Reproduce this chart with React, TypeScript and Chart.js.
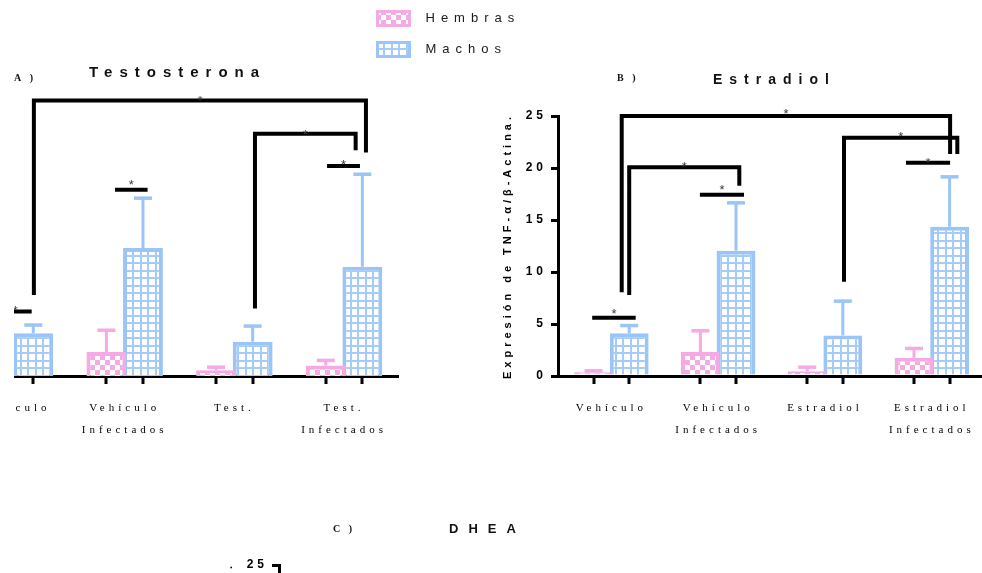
import React, { useEffect, useRef } from 'react';
import { Chart, registerables } from 'chart.js';

Chart.register(...registerables);

// ---------------- data ----------------
const seriesNames = ['Hembras', 'Machos'];
const yTitle = 'Expresión de TNF-α/β-Actina.';
const yTickValues = [0, 5, 10, 15, 20, 25];

const titleA = 'Testosterona';
const panelA = 'A )';
const categoriesA = ['Vehículo', ['Vehículo', 'Infectados'], 'Test.', ['Test.', 'Infectados']];
const hembrasA = [null, 2.3, 0.55, 1.0];
const hembrasErrA = [null, 2.1, 0.3, 0.5];
const machosA = [4.1, 12.3, 3.3, 10.5];
const machosErrA = [0.8, 4.8, 1.5, 8.9];
// brackets: a/b = [category, series]; y1 = left leg end, top = bar level, y2 = right leg end
const bracketsA = [
  { a: [0, 0], b: [0, 1], y1: 6.2, top: 6.2, y2: 6.2 },
  { a: [1, 0], b: [1, 1], y1: 17.9, top: 17.9, y2: 17.9 },
  { a: [3, 0], b: [3, 1], y1: 20.2, top: 20.2, y2: 20.2 },
  { a: [0, 1], b: [3, 1], y1: 7.8, top: 26.5, y2: 21.5 },
  { a: [2, 1], b: [3, 1], y1: 6.5, top: 23.3, y2: 21.7 },
];

const titleB = 'Estradiol';
const panelB = 'B )';
const categoriesB = ['Vehículo', ['Vehículo', 'Infectados'], 'Estradiol', ['Estradiol', 'Infectados']];
const hembrasB = [0.35, 2.3, 0.45, 1.75];
const hembrasErrB = [0.15, 2.05, 0.4, 0.9];
const machosB = [4.1, 12.05, 3.9, 14.35];
const machosErrB = [0.75, 4.6, 3.3, 4.8];
const bracketsB = [
  { a: [0, 0], b: [0, 1], y1: 5.6, top: 5.6, y2: 5.6 },
  { a: [1, 0], b: [1, 1], y1: 17.43, top: 17.43, y2: 17.43 },
  { a: [3, 0], b: [3, 1], y1: 20.5, top: 20.5, y2: 20.5 },
  { a: [0, 1], b: [1, 1], y1: 7.8, top: 20.07, y2: 18.3 },
  { a: [0, 1], b: [3, 1], y1: 8.05, top: 25, y2: 21.35 },
  { a: [2, 1], b: [3, 1], y1: 9.07, top: 22.9, y2: 21.35 },
];

const titleC = 'DHEA';
const panelC = 'C )';
const categoriesC = ['Vehículo', ['Vehículo', 'Infectados'], 'DHEA', ['DHEA', 'Infectados']];
const hembrasC: (number | null)[] = [];
const machosC: (number | null)[] = [];

// ---------------- styles ----------------
const SANS = "'Liberation Sans', Arial, Helvetica, sans-serif";
const SERIF = "'Liberation Serif', 'Times New Roman', Times, serif";
const PINK = 'rgb(245, 170, 228)';
const BLUE = 'rgb(155, 196, 247)';
const BLUE_LINE = 'rgb(165, 203, 248)';

const bracketStyleA = [
  { dx1: 2, dx2: -1.6, starDy: 4 },
  { dx1: 8.6, dx2: 4.6, starDy: 8 },
  { dx1: 1.3, dx2: -2.4, starDy: 4 },
  { dx1: 0.6, dx2: 3.6, starDy: 2.6 },
  { dx1: 2.3, dx2: -6.7, starDy: 2.6 },
];
const bracketStyleB = [
  { dx1: -1.4, dx2: 6.5, starDy: 7 },
  { dx1: -0.5, dx2: 8, starDy: 8.7 },
  { dx1: -8, dx2: 0.5, starDy: 3.4 },
  { dx1: 0, dx2: 3.3, starDy: 3.3 },
  { dx1: -7.5, dx2: 0.5, starDy: 5.3 },
  { dx1: 1.2, dx2: 7.7, starDy: 4 },
];

// canvas placement (page coordinates)
const POS_A = { left: -100, top: 0, width: 500, height: 460 };
const POS_B = { left: 480, top: 0, width: 510, height: 460 };
const POS_C = { left: 201, top: 449, width: 510, height: 460 };
const POS_L = { left: 350, top: -6, width: 400, height: 100 };

function makeChecker(): any {
  const c = document.createElement('canvas');
  c.width = 10; c.height = 10;
  const g = c.getContext('2d')!;
  g.fillStyle = PINK; g.fillRect(0, 0, 10, 10);
  g.fillStyle = '#ffffff'; g.fillRect(0, 0, 5, 5); g.fillRect(5, 5, 5, 5);
  return g.createPattern(c, 'repeat');
}
function makeGrid(): any {
  const c = document.createElement('canvas');
  c.width = 15; c.height = 15;
  const g = c.getContext('2d')!;
  g.fillStyle = '#ffffff'; g.fillRect(0, 0, 15, 15);
  g.fillStyle = BLUE_LINE;
  g.fillRect(0, 0, 2, 15); g.fillRect(7, 0, 2, 15);
  g.fillRect(0, 0, 15, 2); g.fillRect(0, 7, 15, 2);
  return g.createPattern(c, 'repeat');
}
function makeSwatch(pattern: any, color: string) {
  const c = document.createElement('canvas');
  c.width = 35; c.height = 17;
  const g = c.getContext('2d')!;
  g.fillStyle = pattern; g.fillRect(0, 0, 35, 17);
  g.strokeStyle = color; g.lineWidth = 3; g.strokeRect(1.5, 1.5, 32, 14);
  return c;
}

// ---------------- plugins ----------------
function spacingPlugin(px: number) {
  const set = (chart: any) => { (chart.ctx as any).letterSpacing = px + 'px'; };
  return { id: 'letterSpacing', beforeInit: set, beforeUpdate: set, beforeLayout: set, beforeDraw: set, beforeRender: set };
}

const errorBarsPlugin = {
  id: 'errorBars',
  afterDatasetsDraw(chart: any) {
    const ctx = chart.ctx;
    const ys = chart.scales.y;
    chart.data.datasets.forEach((ds: any, di: number) => {
      const errs = ds.errors;
      if (!errs) return;
      const meta = chart.getDatasetMeta(di);
      meta.data.forEach((bar: any, i: number) => {
        const v = ds.data[i];
        const e = errs[i];
        if (v == null || e == null) return;
        const yTop = ys.getPixelForValue(v + e);
        ctx.save();
        ctx.strokeStyle = ds.borderColor;
        ctx.fillStyle = ds.borderColor;
        ctx.lineWidth = 3;
        ctx.beginPath();
        ctx.moveTo(bar.x, bar.y);
        ctx.lineTo(bar.x, yTop);
        ctx.stroke();
        ctx.fillRect(bar.x - 9, yTop - 1.75, 18, 3.5);
        ctx.restore();
      });
    });
  },
};

function bracketsPlugin(items: any[], styles: any[]) {
  return {
    id: 'brackets',
    afterDatasetsDraw(chart: any) {
      const ctx = chart.ctx;
      const ys = chart.scales.y;
      items.forEach((b, k) => {
        const st = styles[k];
        const xa = chart.getDatasetMeta(b.a[1]).data[b.a[0]].x + st.dx1;
        const xb = chart.getDatasetMeta(b.b[1]).data[b.b[0]].x + st.dx2;
        const p1 = ys.getPixelForValue(b.y1);
        const pt = ys.getPixelForValue(b.top);
        const p2 = ys.getPixelForValue(b.y2);
        ctx.save();
        ctx.strokeStyle = '#000';
        ctx.lineWidth = 4;
        ctx.lineJoin = 'miter';
        ctx.lineCap = 'butt';
        ctx.beginPath();
        ctx.moveTo(xa, p1);
        ctx.lineTo(xa, pt);
        ctx.lineTo(xb, pt);
        ctx.lineTo(xb, p2);
        ctx.stroke();
        (ctx as any).letterSpacing = '0px';
        ctx.font = `13px ${SANS}`;
        ctx.fillStyle = '#3a3a3a';
        ctx.textAlign = 'center';
        ctx.textBaseline = 'alphabetic';
        ctx.fillText('*', (xa + xb) / 2, pt - st.starDy + 7.5);
        ctx.restore();
      });
    },
  };
}

const barTicksPlugin = {
  id: 'barTicks',
  afterDraw(chart: any) {
    const ctx = chart.ctx;
    const axisY = chart.scales.x.top;
    ctx.save();
    ctx.fillStyle = '#000';
    chart.data.datasets.forEach((_: any, di: number) => {
      chart.getDatasetMeta(di).data.forEach((bar: any) => {
        ctx.fillRect(Math.round(bar.x) - 1.5, axisY, 3, 8);
      });
    });
    ctx.restore();
  },
};

function textPlugin(items: any[], pos: any) {
  return {
    id: 'panelText',
    afterDraw(chart: any) {
      const ctx = chart.ctx;
      items.forEach((t) => {
        ctx.save();
        ctx.font = t.font;
        (ctx as any).letterSpacing = t.spacing + 'px';
        ctx.fillStyle = '#111';
        ctx.textAlign = 'left';
        ctx.textBaseline = 'middle';
        ctx.fillText(t.text, t.x - pos.left, t.y - pos.top);
        ctx.restore();
      });
    },
  };
}

function barConfig(opts: any) {
  const { labels, hembras, hembrasErr, machos, machosErr, padding, showY, plugins, checker, grid } = opts;
  const yScale: any = {
    display: showY,
    min: 0, max: 25,
    afterBuildTicks: (s: any) => { s.ticks = yTickValues.map((v) => ({ value: v })); },
    ticks: { font: { family: SANS, size: 12, weight: 'bold' }, color: '#000', padding: 4 },
    grid: { drawOnChartArea: false, drawTicks: true, tickLength: 7, tickWidth: 3, tickColor: '#000', lineWidth: 3 },
    border: { display: true, color: '#000', width: 3 },
    title: {
      display: true, text: yTitle, color: '#000',
      font: { family: SANS, size: 11, weight: 'bold' },
      padding: { top: 21, bottom: 0 },
    },
  };
  if (showY) yScale.afterFit = (s: any) => { s.width = 78; };
  return {
    type: 'bar',
    data: {
      labels,
      datasets: [
        {
          label: seriesNames[0], data: hembras, errors: hembrasErr,
          backgroundColor: checker, borderColor: PINK,
          borderWidth: 4, borderSkipped: 'start',
          categoryPercentage: 0.667, barPercentage: 1.09,
        },
        {
          label: seriesNames[1], data: machos, errors: machosErr,
          backgroundColor: grid, borderColor: BLUE,
          borderWidth: 4, borderSkipped: 'start',
          categoryPercentage: 0.667, barPercentage: 1.09,
        },
      ],
    },
    options: {
      animation: false,
      responsive: false,
      maintainAspectRatio: false,
      events: [],
      layout: { padding, autoPadding: false },
      plugins: { legend: { display: false }, tooltip: { enabled: false }, title: { display: false } },
      scales: {
        x: {
          ticks: {
            font: { family: SERIF, size: 11, lineHeight: 2 },
            color: '#000', padding: 21, maxRotation: 0, minRotation: 0, autoSkip: false,
          },
          grid: { display: false, drawTicks: false },
          border: { display: true, color: '#000', width: 3 },
          afterFit: (s: any) => { s.height = 84; s.paddingLeft = 0; s.paddingRight = 0; },
        },
        y: yScale,
      },
    },
    plugins,
  };
}

export default function App() {
  const refA = useRef<HTMLCanvasElement>(null);
  const refB = useRef<HTMLCanvasElement>(null);
  const refC = useRef<HTMLCanvasElement>(null);
  const refL = useRef<HTMLCanvasElement>(null);

  useEffect(() => {
    const checker = makeChecker();
    const grid = makeGrid();
    const charts: Chart[] = [];

    charts.push(new Chart(refA.current as any, barConfig({
      labels: categoriesA, hembras: hembrasA, hembrasErr: hembrasErrA, machos: machosA, machosErr: machosErrA,
      showY: false, checker, grid,
      padding: { left: 60.15, right: 1.1, top: 116, bottom: 0 },
      plugins: [
        spacingPlugin(4), errorBarsPlugin, bracketsPlugin(bracketsA, bracketStyleA), barTicksPlugin,
        textPlugin([
          { text: panelA, x: 14, y: 78.3, font: `bold 10px ${SERIF}`, spacing: 3 },
          { text: titleA, x: 89, y: 72.7, font: `bold 15px ${SANS}`, spacing: 7 },
        ], POS_A),
      ],
    }) as any));

    charts.push(new Chart(refB.current as any, barConfig({
      labels: categoriesB, hembras: hembrasB, hembrasErr: hembrasErrB, machos: machosB, machosErr: machosErrB,
      showY: true, checker, grid,
      padding: { left: 0, right: 4.8, top: 116, bottom: 0 },
      plugins: [
        spacingPlugin(4), errorBarsPlugin, bracketsPlugin(bracketsB, bracketStyleB), barTicksPlugin,
        textPlugin([
          { text: panelB, x: 617, y: 78.3, font: `bold 10px ${SERIF}`, spacing: 3 },
          { text: titleB, x: 713, y: 80, font: `bold 14px ${SANS}`, spacing: 7 },
        ], POS_B),
      ],
    }) as any));

    charts.push(new Chart(refC.current as any, barConfig({
      labels: categoriesC, hembras: hembrasC, hembrasErr: null, machos: machosC, machosErr: null,
      showY: true, checker, grid,
      padding: { left: 0, right: 4.8, top: 116, bottom: 0 },
      plugins: [
        spacingPlugin(4), errorBarsPlugin, barTicksPlugin,
        textPlugin([
          { text: panelC, x: 333, y: 529, font: `bold 10px ${SERIF}`, spacing: 3 },
          { text: titleC, x: 449, y: 529, font: `bold 13px ${SANS}`, spacing: 10 },
        ], POS_C),
      ],
    }) as any));

    const swatches = [makeSwatch(checker, PINK), makeSwatch(grid, BLUE)];
    charts.push(new Chart(refL.current as any, {
      type: 'bar',
      data: {
        labels: [],
        datasets: [
          { label: seriesNames[0], data: [], backgroundColor: checker, borderColor: PINK },
          { label: seriesNames[1], data: [], backgroundColor: grid, borderColor: BLUE },
        ],
      },
      options: {
        animation: false,
        responsive: false,
        events: [],
        layout: { autoPadding: false },
        plugins: {
          tooltip: { enabled: false },
          legend: {
            display: true, position: 'left', align: 'start',
            labels: {
              usePointStyle: true, pointStyleWidth: 51, padding: 18,
              font: { family: SANS, size: 13 }, color: '#1a1a1a',
              generateLabels: (chart: any) => chart.data.datasets.map((ds: any, i: number) => ({
                text: ds.label, fillStyle: ds.backgroundColor, strokeStyle: ds.borderColor,
                fontColor: '#1a1a1a', lineWidth: 0, pointStyle: swatches[i], hidden: false, datasetIndex: i,
              })),
            },
          },
        },
        scales: { x: { display: false }, y: { display: false } },
      },
      plugins: [spacingPlugin(6)],
    } as any));

    return () => { charts.forEach((c) => c.destroy()); };
  }, []);

  const cs = (p: any, extra: any = {}) => ({ position: 'absolute' as const, left: p.left, top: p.top, width: p.width, height: p.height, ...extra });

  return (
    <div style={{ position: 'fixed', left: 0, top: 0, width: 982, height: 573, overflow: 'hidden', background: '#ffffff' }}>
      <canvas ref={refA} width={POS_A.width} height={POS_A.height} style={cs(POS_A, { clipPath: 'inset(0 0 0 114px)' })} />
      <canvas ref={refB} width={POS_B.width} height={POS_B.height} style={cs(POS_B)} />
      <canvas ref={refC} width={POS_C.width} height={POS_C.height} style={cs(POS_C)} />
      <canvas ref={refL} width={POS_L.width} height={POS_L.height} style={cs(POS_L)} />
    </div>
  );
}
